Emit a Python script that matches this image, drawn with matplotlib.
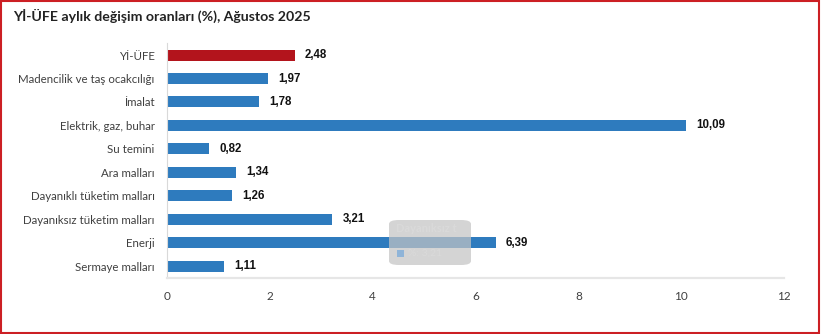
import matplotlib
matplotlib.use("Agg")
import matplotlib.pyplot as plt
from matplotlib.patches import FancyBboxPatch, Rectangle

categories = [
    "Yİ-ÜFE",
    "Madencilik ve taş ocakcılığı",
    "İmalat",
    "Elektrik, gaz, buhar",
    "Su temini",
    "Ara malları",
    "Dayanıklı tüketim malları",
    "Dayanıksız tüketim malları",
    "Enerji",
    "Sermaye malları",
]
values = [2.48, 1.97, 1.78, 10.09, 0.82, 1.34, 1.26, 3.21, 6.39, 1.11]
xticks = [0, 2, 4, 6, 8, 10, 12]

RED = "#b3141c"
BLUE = "#2e7bbe"
colors = [RED] + [BLUE] * (len(values) - 1)
UI_FONT = ["Lato", "DejaVu Sans"]

fig = plt.figure(figsize=(8.21, 3.34), dpi=100)
ax = fig.add_axes([167 / 821, 1 - 278 / 334, 617 / 821, (278 - 43.3) / 334])

y = list(range(len(categories)))
ax.barh(y, values, height=0.47, color=colors, zorder=2)
ax.set_ylim(len(categories) - 0.5, -0.5)
ax.set_xlim(0, 12)
ax.set_xticks(xticks)
ax.set_xticklabels([str(t) for t in xticks], fontsize=8.5, color="#404040",
                   family=UI_FONT)
ax.set_yticks(y)
ax.set_yticklabels(categories, fontsize=8.3, color="#404040", family=UI_FONT)
ax.tick_params(axis="x", length=0, pad=9)
ax.tick_params(axis="y", length=0, pad=9)

for s in ["top", "right"]:
    ax.spines[s].set_visible(False)
ax.spines["left"].set_color("#d9d9d9")
ax.spines["left"].set_linewidth(0.8)
ax.spines["bottom"].set_color("#e6e6e6")
ax.spines["bottom"].set_linewidth(1.6)

for yi, v in zip(y, values):
    ax.text(v + 0.2, yi, f"{v:.2f}".replace(".", ","), va="center", ha="left",
            fontsize=8.3, fontweight="bold", color="#111111",
            family=["Liberation Sans", "DejaVu Sans"])

# hover tooltip over the chart
tip = FancyBboxPatch((389 / 821, 1 - 265 / 334), 82 / 821, 45 / 334,
                     boxstyle="round,pad=0,rounding_size=0.012",
                     transform=fig.transFigure, facecolor="#c4c4c4",
                     edgecolor="none", alpha=0.72, zorder=10)
fig.patches.append(tip)
fig.text(396 / 821, 1 - 232 / 334, "Dayanıksız t", fontsize=8,
         fontweight="bold", color="#dcdcdc", alpha=0.7,
         family=UI_FONT, zorder=11)
fig.patches.append(Rectangle((397 / 821, 1 - 257 / 334), 7 / 821, 7 / 334,
                             transform=fig.transFigure, facecolor="#8fb4d8",
                             edgecolor="none", zorder=11))
fig.text(408 / 821, 1 - 256 / 334, "%: 3,21", fontsize=7.5, color="#dcdcdc",
         alpha=0.7, family=UI_FONT, zorder=11)

fig.text(13 / 821, 1 - 16 / 334, "Yİ-ÜFE aylık değişim oranları (%), Ağustos 2025",
         fontsize=10.2, fontweight="bold", color="#222222", va="center",
         family=UI_FONT)

# outer frame
fig.patches.append(Rectangle((0.001, 0.003), 0.997, 0.995, transform=fig.transFigure,
                             facecolor="none", edgecolor="#cc1f24", linewidth=1.5,
                             zorder=20))

fig.savefig("out.png", dpi=100)
